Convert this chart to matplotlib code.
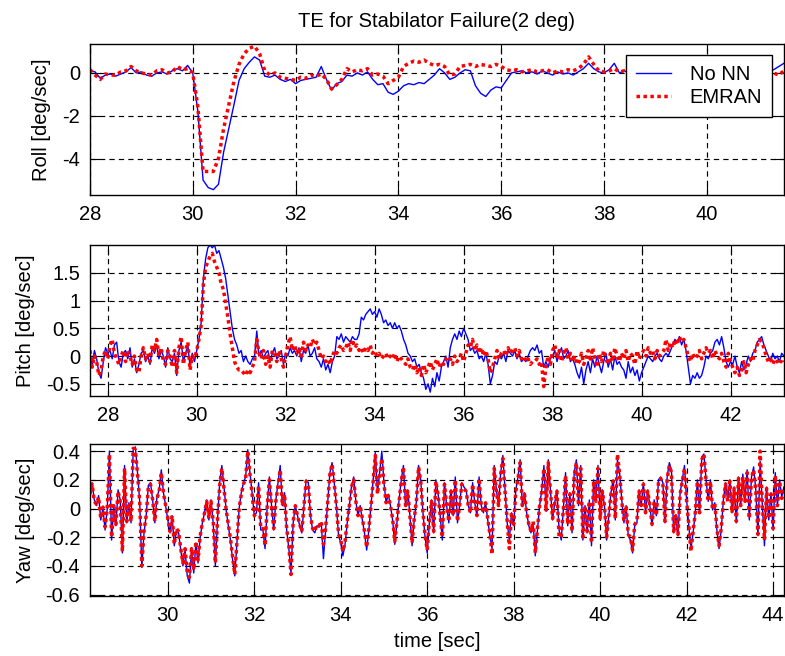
import numpy as np
import matplotlib
matplotlib.use('Agg')
import matplotlib.pyplot as plt

plt.rcParams['font.family'] = ['Liberation Sans', 'DejaVu Sans']
plt.rcParams['font.size'] = 14.5
plt.rcParams['axes.unicode_minus'] = False

# ---- roll rate error, sampled every 0.1 s from 28.0 to 41.5 s
roll_start, roll_end = 28.0, 41.5
roll_nonn = [0.1, 0.05, -0.25, -0.1, -0.05, -0.15, -0.05, 0.05, 0.25, 0.0,
             0.05, -0.1, -0.15, 0.0, 0.05, -0.05, 0.1, 0.2, 0.1, 0.35,
             0.0, -1.8, -5.0, -5.35, -5.45, -5.2, -3.7, -2.6, -1.5, -0.35,
             0.2, 0.5, 0.75, 0.6, -0.15, -0.2, -0.1, -0.3, -0.4, -0.3,
             -0.5, -0.35, -0.3, -0.25, -0.2, 0.3, -0.3, -0.8, -0.5, -0.4,
             -0.1, -0.15, 0.0, -0.1, 0.05, -0.3, -0.55, -0.5, -0.9, -1.0,
             -0.85, -0.6, -0.5, -0.55, -0.45, -0.5, -0.3, -0.1, 0.2, 0.0,
             -0.3, -0.2, 0.0, 0.15, 0.1, -0.6, -0.95, -1.1, -0.8, -0.65,
             -0.7, -0.35, 0.0, 0.05, 0.1, 0.0, 0.05, -0.05, 0.1, 0.0,
             -0.1, 0.05, -0.05, 0.0, -0.1, 0.05, 0.2, 0.45, 0.2, 0.05,
             0.0, 0.15, 0.45, 0.0, 0.1, -0.05, 0.05, 0.0, 0.1, -0.1,
             0.0, 0.05, -0.05, 0.1, 0.0, -0.05, 0.05, 0.0, -0.1, 0.05,
             0.1, 0.0, -0.05, 0.05, 0.1, 0.0, -0.05, 0.0, 0.05, 0.1,
             0.0, 0.05, 0.1, 0.15, 0.3, 0.45]
roll_emran = [0.15, -0.1, -0.3, -0.05, -0.1, -0.1, 0.05, 0.1, 0.3, 0.1,
              0.0, -0.05, -0.1, 0.1, 0.15, 0.0, 0.05, 0.3, 0.15, 0.2,
              0.0, -1.6, -4.6, -4.6, -4.6, -4.0, -2.6, -1.5, -0.4, 0.4,
              0.9, 1.15, 1.25, 0.9, 0.1, -0.1, 0.0, -0.2, -0.25, -0.3,
              -0.35, -0.2, -0.25, -0.1, -0.15, -0.05, -0.3, -0.75, -0.55, -0.3,
              0.2, 0.05, 0.15, 0.1, 0.2, -0.1, -0.05, -0.15, -0.5, -0.35,
              -0.2, 0.3, 0.45, 0.55, 0.5, 0.6, 0.45, 0.35, 0.4, 0.3,
              -0.1, -0.05, 0.3, 0.35, 0.4, 0.3, 0.4, 0.35, 0.3, 0.4,
              0.3, 0.15, 0.1, 0.15, 0.05, 0.1, 0.15, 0.05, 0.1, 0.15,
              0.0, 0.1, 0.05, 0.15, 0.1, 0.2, 0.4, 0.75, 0.4, 0.1,
              0.05, 0.1, 0.2, 0.05, 0.1, 0.0, 0.1, 0.05, 0.0, 0.1,
              0.05, 0.1, 0.0, 0.05, 0.1, 0.0, 0.05, 0.1, 0.0, 0.05,
              0.1, 0.0, 0.05, 0.1, 0.0, 0.05, 0.1, 0.0, 0.05, 0.1,
              0.0, 0.05, 0.0, 0.0, -0.1, 0.1]

# ---- pitch rate error, sampled every 0.05 s from 27.6 to 43.2 s
pitch_start, pitch_end = 27.6, 43.2
pitch_nonn = [0.05, -0.15, 0.1, -0.05, -0.3, -0.4, -0.1, 0.15, 0.05, 0.1, -0.05, 0.2, 0.25, -0.1, -0.2, 0.05, 0.1, -0.05, 0.15, -0.2,
              -0.05, -0.3, -0.15, 0.05, 0.1, -0.1, 0.0, -0.15, 0.15, 0.05, 0.2, -0.05, 0.1, 0.0, -0.2, 0.15, -0.05, -0.1, 0.05, -0.35,
              0.1, 0.25, -0.1, 0.05, 0.2, -0.2, 0.05, -0.1, 0.1, 0.3, 0.6, 1.4, 1.75, 1.95, 2.0, 1.95, 2.0, 1.85, 1.9, 1.75,
              1.6, 1.4, 1.1, 0.8, 0.5, 0.3, 0.2, 0.05, 0.1, -0.1, 0.0, -0.1, -0.15, -0.05, 0.0, 0.45, 0.0, 0.1, -0.05, 0.05,
              0.1, -0.1, 0.05, 0.15, -0.05, 0.0, 0.1, -0.15, 0.05, 0.0, 0.15, 0.05, 0.1, 0.0, 0.15, -0.1, 0.1, 0.05, 0.2, 0.0,
              0.05, 0.15, -0.05, -0.1, -0.2, -0.05, -0.25, -0.15, -0.3, -0.1, 0.0, 0.35, 0.3, 0.4, 0.25, 0.35, 0.3, 0.25, 0.35, 0.3,
              0.3, 0.4, 0.7, 0.65, 0.75, 0.8, 0.85, 0.75, 0.8, 0.7, 0.85, 0.75, 0.6, 0.65, 0.55, 0.6, 0.5, 0.6, 0.5, 0.55,
              0.45, 0.3, 0.2, 0.05, 0.0, -0.1, -0.05, -0.2, -0.15, -0.3, -0.4, -0.6, -0.5, -0.65, -0.4, -0.55, -0.3, -0.45, -0.2, -0.1,
              0.0, -0.2, 0.15, 0.3, 0.4, 0.3, 0.45, 0.35, 0.5, 0.4, 0.3, 0.1, 0.15, 0.05, 0.1, -0.05, 0.0, -0.1, 0.05, -0.15,
              -0.5, -0.35, -0.1, -0.15, 0.0, -0.05, 0.05, -0.1, 0.1, 0.05, 0.0, 0.1, -0.05, 0.05, -0.1, -0.05, -0.1, 0.0, 0.1, 0.15,
              0.1, 0.2, 0.05, 0.1, -0.2, -0.1, -0.2, -0.05, 0.0, 0.1, -0.1, 0.05, 0.15, -0.05, 0.0, 0.1, -0.1, -0.05, -0.15, -0.3,
              -0.4, -0.2, -0.5, -0.25, -0.1, -0.3, -0.05, -0.2, 0.0, -0.15, -0.3, -0.1, 0.05, -0.2, -0.05, -0.25, 0.0, -0.15, -0.1, -0.2,
              -0.25, -0.4, -0.1, -0.3, -0.2, -0.35, -0.25, -0.45, -0.3, -0.2, -0.1, 0.0, -0.05, -0.1, 0.0, 0.05, -0.05, -0.1, 0.0, 0.05,
              0.0, 0.1, 0.2, 0.3, 0.25, 0.35, 0.2, 0.3, 0.1, -0.2, -0.5, -0.35, -0.4, -0.3, -0.4, -0.35, -0.2, 0.0, -0.05, 0.05,
              0.1, 0.25, 0.3, 0.2, 0.35, 0.15, -0.1, -0.2, -0.1, -0.15, 0.0, -0.2, -0.3, -0.1, -0.25, -0.15, 0.0, -0.1, 0.05, 0.1,
              0.25, 0.3, 0.35, 0.2, 0.1, 0.0, -0.1, 0.05, -0.05, 0.0, -0.1, 0.05, 0.0]
pitch_emran = [0.1, -0.2, 0.0, -0.1, -0.35, -0.25, 0.0, 0.1, -0.05, 0.2, 0.3, 0.05, -0.05, -0.15, 0.0, 0.1, -0.1, 0.1, 0.0, -0.15,
               0.0, -0.25, -0.3, 0.0, 0.15, -0.05, 0.05, -0.1, 0.2, 0.1, 0.3, 0.0, 0.15, -0.1, -0.15, 0.1, 0.0, -0.2, 0.1, -0.3,
               0.15, 0.35, -0.15, 0.1, 0.25, -0.25, 0.0, -0.05, 0.1, 0.3, 0.55, 1.3, 1.6, 1.7, 1.8, 1.85, 1.7, 1.6, 1.5, 1.3,
               1.2, 0.95, 0.7, 0.4, 0.15, -0.1, -0.2, -0.25, -0.25, -0.3, -0.35, -0.25, -0.3, -0.2, -0.1, 0.3, 0.05, -0.05, 0.1, -0.15,
               0.0, -0.2, 0.1, 0.05, -0.1, 0.1, -0.05, -0.2, 0.0, 0.2, 0.35, 0.1, 0.2, 0.05, 0.15, 0.0, 0.25, 0.1, 0.2, 0.15,
               0.3, 0.2, 0.25, 0.1, -0.05, 0.0, -0.1, -0.05, -0.15, 0.0, 0.1, 0.05, 0.15, 0.2, 0.1, 0.15, 0.25, 0.1, 0.3, 0.15,
               0.2, 0.1, 0.15, 0.05, 0.15, 0.1, 0.2, 0.05, 0.1, 0.0, 0.05, -0.05, 0.0, 0.05, -0.05, 0.0, -0.05, 0.05, -0.1, 0.0,
               -0.05, -0.1, -0.15, -0.05, -0.2, -0.25, -0.15, -0.3, -0.2, -0.35, -0.15, -0.3, -0.2, -0.1, -0.25, -0.15, -0.05, -0.2, -0.1, -0.15,
               -0.05, -0.1, -0.05, -0.15, 0.0, -0.1, -0.05, 0.05, -0.1, 0.05, 0.2, 0.15, 0.3, 0.1, 0.2, 0.05, 0.15, 0.0, 0.1, -0.05,
               -0.3, -0.2, -0.05, 0.1, -0.05, 0.05, 0.1, 0.0, 0.15, 0.05, 0.1, 0.15, 0.0, 0.1, -0.05, 0.0, -0.1, -0.05, -0.15, -0.1,
               -0.1, -0.05, -0.15, -0.1, -0.55, -0.2, 0.0, -0.15, 0.1, 0.2, -0.05, 0.1, -0.1, 0.05, 0.15, -0.05, 0.05, -0.1, 0.0, -0.15,
               -0.1, 0.05, -0.15, -0.05, 0.1, -0.1, 0.15, -0.05, -0.2, 0.05, -0.1, 0.1, -0.05, -0.15, 0.05, -0.1, 0.15, 0.0, -0.1, 0.05,
               -0.05, 0.1, -0.1, 0.05, 0.0, -0.15, 0.1, -0.05, 0.05, 0.1, 0.0, 0.15, 0.05, 0.1, -0.05, 0.1, 0.0, 0.05, 0.1, 0.3,
               0.1, 0.25, 0.15, 0.3, 0.2, 0.35, 0.25, 0.3, 0.15, 0.0, -0.1, 0.05, -0.05, 0.0, 0.1, -0.05, 0.05, 0.15, 0.05, 0.1,
               -0.05, 0.1, 0.0, -0.05, 0.05, -0.1, -0.2, 0.05, -0.1, -0.2, -0.3, -0.2, -0.35, -0.25, -0.1, -0.3, -0.15, -0.05, -0.1, 0.1,
               0.2, 0.3, 0.25, 0.15, 0.0, -0.1, -0.05, -0.15, -0.05, -0.1, -0.15, -0.05, -0.1]

# ---- yaw rate error, sampled every 0.05 s from 28.2 to 44.25 s
yaw_start, yaw_end = 28.2, 44.25
yaw_nonn = [0.12, 0.18, 0.06, 0.02, 0.09, -0.08, 0.0, -0.15, 0.0, 0.40, -0.22, 0.02, -0.12, 0.13, 0.06, -0.31, 0.30, -0.10, 0.04, -0.10,
            0.41, 0.43, 0.25, 0.05, -0.41, -0.17, -0.05, 0.16, 0.18, 0.06, -0.10, 0.08, 0.13, 0.27, 0.11, 0.02, -0.08, -0.17, -0.05, -0.26,
            -0.15, -0.17, -0.29, -0.40, -0.29, -0.47, -0.52, -0.29, -0.45, -0.24, -0.38, -0.20, -0.10, -0.03, 0.06, -0.08, 0.06, -0.10, -0.40, -0.08,
            0.18, 0.30, 0.15, -0.01, -0.12, -0.22, -0.36, -0.47, -0.24, 0.0, 0.11, 0.18, 0.22, 0.41, 0.25, 0.11, -0.05, -0.03, 0.18, -0.15,
            -0.15, -0.28, 0.02, 0.22, 0.02, -0.15, 0.06, 0.18, 0.30, 0.02, 0.11, -0.15, -0.28, -0.45, -0.10, 0.02, -0.05, -0.12, -0.17, 0.02,
            0.20, 0.18, -0.05, -0.15, -0.17, -0.12, -0.13, -0.10, -0.35, -0.15, 0.06, 0.25, 0.32, 0.18, 0.02, -0.19, -0.24, -0.33, -0.25, -0.10,
            0.02, 0.16, 0.22, 0.05, -0.05, 0.02, -0.08, -0.17, -0.29, -0.15, 0.02, 0.20, 0.39, 0.11, 0.25, 0.40, 0.18, 0.04, 0.10, 0.02,
            -0.08, -0.25, -0.10, 0.06, 0.20, 0.30, 0.02, 0.13, -0.05, -0.26, -0.08, 0.05, 0.30, 0.20, -0.02, -0.20, -0.31, -0.10, 0.06, -0.17,
            0.20, 0.11, -0.05, -0.22, 0.18, 0.02, -0.10, 0.13, -0.05, 0.22, -0.10, 0.02, 0.18, 0.15, 0.13, 0.02, -0.03, 0.18, 0.04, -0.05,
            0.22, 0.02, -0.03, 0.04, -0.08, -0.19, -0.28, 0.30, 0.13, 0.02, 0.25, 0.37, 0.13, -0.10, -0.22, -0.03, -0.12, 0.13, 0.22, 0.34,
            0.02, 0.11, -0.03, -0.12, -0.17, -0.10, -0.33, -0.15, 0.02, 0.13, 0.30, -0.02, 0.34, 0.13, -0.08, 0.04, 0.13, -0.15, -0.22, 0.0,
            0.25, -0.12, 0.11, -0.17, 0.25, 0.34, 0.02, 0.30, -0.22, 0.02, -0.17, 0.06, -0.26, 0.20, 0.06, 0.30, -0.08, 0.13, 0.02, -0.22,
            -0.05, 0.11, 0.20, -0.08, 0.34, 0.25, 0.06, -0.10, 0.02, -0.19, -0.22, -0.31, -0.12, -0.10, 0.13, 0.02, 0.18, -0.03, 0.13, 0.02,
            -0.12, 0.06, -0.05, 0.20, 0.22, 0.18, -0.10, 0.22, 0.32, 0.27, -0.17, -0.05, -0.19, 0.11, 0.20, 0.30, 0.06, -0.12, -0.28, -0.17,
            -0.03, 0.20, -0.03, 0.36, 0.38, 0.20, 0.05, 0.20, -0.01, 0.04, -0.15, -0.28, -0.15, 0.06, 0.18, 0.06, 0.20, -0.03, 0.15, -0.10,
            0.22, 0.02, 0.24, 0.06, 0.27, -0.08, 0.22, 0.29, 0.13, -0.19, 0.33, 0.04, -0.26, 0.15, -0.08, 0.11, -0.15, 0.25, 0.02, 0.20, 0.08, 0.15]
yaw_emran = [0.10, 0.17, 0.05, 0.03, 0.08, -0.07, 0.01, -0.13, 0.0, 0.38, -0.20, 0.02, -0.11, 0.12, 0.05, -0.30, 0.28, -0.09, 0.04, -0.09,
             0.42, 0.41, 0.24, 0.05, -0.40, -0.16, -0.05, 0.15, 0.17, 0.06, -0.09, 0.07, 0.12, 0.25, 0.11, 0.02, -0.07, -0.16, -0.05, -0.25,
             -0.14, -0.16, -0.28, -0.38, -0.28, -0.45, -0.48, -0.28, -0.43, -0.23, -0.36, -0.19, -0.10, -0.03, 0.05, -0.07, 0.05, -0.09, -0.38, -0.08,
             0.16, 0.28, 0.14, -0.01, -0.11, -0.21, -0.34, -0.46, -0.23, 0.0, 0.10, 0.17, 0.21, 0.40, 0.24, 0.10, -0.05, -0.03, 0.16, -0.14,
             -0.14, -0.26, 0.02, 0.20, 0.02, -0.14, 0.05, 0.16, 0.27, 0.02, 0.10, -0.14, -0.26, -0.46, -0.09, 0.02, -0.05, -0.11, -0.16, 0.02,
             0.19, 0.17, -0.05, -0.14, -0.16, -0.11, -0.12, -0.09, -0.25, -0.14, 0.05, 0.24, 0.31, 0.17, 0.02, -0.18, -0.22, -0.30, -0.23, -0.09,
             0.02, 0.15, 0.20, 0.05, -0.05, 0.02, -0.07, -0.16, -0.27, -0.14, 0.02, 0.19, 0.37, 0.10, 0.23, 0.35, 0.17, 0.04, 0.09, 0.02,
             -0.07, -0.23, -0.09, 0.05, 0.19, 0.29, 0.02, 0.12, -0.05, -0.24, -0.07, 0.05, 0.29, 0.19, -0.02, -0.19, -0.29, -0.09, 0.05, -0.16,
             0.19, 0.10, -0.05, -0.20, 0.17, 0.02, -0.09, 0.12, -0.05, 0.20, -0.09, 0.02, 0.17, 0.14, 0.12, 0.02, -0.03, 0.17, 0.04, -0.05,
             0.21, 0.02, -0.03, 0.04, -0.07, -0.18, -0.32, 0.28, 0.12, 0.02, 0.24, 0.35, 0.12, -0.09, -0.28, -0.03, -0.11, 0.12, 0.21, 0.32,
             0.02, 0.10, -0.03, -0.11, -0.16, -0.09, -0.31, -0.14, 0.02, 0.12, 0.28, -0.02, 0.32, 0.12, -0.07, 0.04, 0.12, -0.20, -0.20, 0.0,
             0.23, -0.11, 0.10, -0.16, 0.23, 0.32, 0.02, 0.28, -0.20, 0.02, -0.16, 0.05, -0.24, 0.19, 0.05, 0.28, -0.07, 0.12, 0.02, -0.20,
             -0.05, 0.10, 0.19, -0.07, 0.38, 0.24, 0.05, -0.09, 0.02, -0.18, -0.20, -0.29, -0.11, -0.09, 0.12, 0.02, 0.17, -0.03, 0.12, 0.02,
             -0.11, 0.05, -0.05, 0.19, 0.21, 0.17, -0.09, 0.21, 0.30, 0.25, -0.16, -0.05, -0.18, 0.10, 0.19, 0.28, 0.05, -0.11, -0.30, -0.16,
             -0.03, 0.19, -0.03, 0.34, 0.38, 0.19, 0.05, 0.19, -0.01, 0.04, -0.14, -0.26, -0.14, 0.05, 0.17, 0.05, 0.19, -0.03, 0.14, -0.09,
             0.21, 0.02, 0.22, 0.05, 0.25, -0.07, 0.21, 0.27, 0.12, -0.18, 0.40, 0.04, -0.22, 0.14, -0.07, 0.10, -0.14, 0.23, 0.02, 0.19, 0.07, 0.14]

# axis ticks (labels written the way the original shows them)
roll_yticks = [-4, -2, 0]
roll_yticklabels = ['-4', '-2', '0']
pitch_yticks = [-0.5, 0, 0.5, 1, 1.5]
pitch_yticklabels = ['-0.5', '0', '0.5', '1', '1.5']
yaw_yticks = [-0.6, -0.4, -0.2, 0, 0.2, 0.4]
yaw_yticklabels = ['-0.6', '-0.4', '-0.2', '0', '0.2', '0.4']
roll_xticks = [28, 30, 32, 34, 36, 38, 40]
pitch_xticks = [28, 30, 32, 34, 36, 38, 40, 42]
yaw_xticks = [30, 32, 34, 36, 38, 40, 42, 44]

t_roll = np.linspace(roll_start, roll_end, len(roll_nonn))
t_pitch = np.linspace(pitch_start, pitch_end, len(pitch_nonn))
t_yaw = np.linspace(yaw_start, yaw_end, len(yaw_nonn))

fig = plt.figure(figsize=(7.85, 6.56), dpi=100)
fig.patch.set_facecolor('white')

left, width = 0.1146, 0.884
ax1 = fig.add_axes([left, 0.7027, width, 0.2302])
ax2 = fig.add_axes([left, 0.3963, width, 0.2302])
ax3 = fig.add_axes([left, 0.0915, width, 0.2317])

panels = [
    (ax1, t_roll, roll_nonn, roll_emran, (28.0, 41.5), (-5.7, 1.35),
     roll_xticks, roll_yticks, roll_yticklabels, 'Roll [deg/sec]'),
    (ax2, t_pitch, pitch_nonn, pitch_emran, (27.6, 43.2), (-0.72, 2.0),
     pitch_xticks, pitch_yticks, pitch_yticklabels, 'Pitch [deg/sec]'),
    (ax3, t_yaw, yaw_nonn, yaw_emran, (28.2, 44.25), (-0.61, 0.45),
     yaw_xticks, yaw_yticks, yaw_yticklabels, 'Yaw [deg/sec]'),
]

for ax, t, blue, red, xl, yl, xt, yt, ytl, ylab in panels:
    ax.plot(t, blue, '-', color='#0000ff', lw=1.0, label='No NN')
    ax.plot(t, red, color='#ff0000', lw=2.5, linestyle=(0, (1, 1)),
            label='EMRAN')
    ax.set_xlim(*xl)
    ax.set_ylim(*yl)
    ax.set_xticks(xt)
    ax.set_xticklabels([str(v) for v in xt])
    ax.set_yticks(yt)
    ax.set_yticklabels(ytl)
    ax.grid(True, color='black', linestyle=(0, (4.5, 3.5)), lw=0.85)
    ax.set_axisbelow(True)
    ax.tick_params(direction='in', length=7, width=0.8, top=True, right=True,
                   pad=7, labelsize=14.5)
    for sp in ax.spines.values():
        sp.set_linewidth(1.0)
    ax.set_ylabel(ylab, labelpad=8)

ax1.set_title('TE for Stabilator Failure(2 deg)', pad=12, fontsize=14.5)
ax3.set_xlabel('time [sec]', labelpad=5)

leg = ax1.legend(loc='upper right', bbox_to_anchor=(0.983, 0.927),
                 borderaxespad=0, fancybox=False, framealpha=1,
                 edgecolor='black', handlelength=1.75, handletextpad=0.9,
                 labelspacing=0.2, borderpad=0.5, fontsize=14.5)
leg.get_frame().set_linewidth(1.0)

fig.savefig('out.png', dpi=100, facecolor='white')
